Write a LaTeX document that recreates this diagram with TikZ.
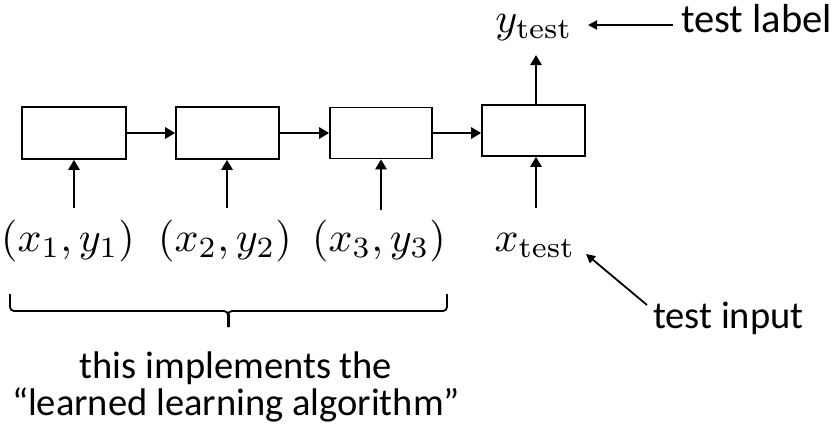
\documentclass[tikz,border=0pt]{standalone}
\usepackage{fontspec}
\newfontfamily\calibri{Carlito}
\usetikzlibrary{arrows.meta}
\newcommand{\mathbigscaled}[1]{\scalebox{4.2}{$#1$}}
\tikzset{
  blk/.style={draw, line width=1.6pt, inner sep=0pt},
  arr/.style={line width=2.6pt, -{Triangle[length=10pt,width=11pt]}},
  thinarr/.style={line width=1.8pt, -{Triangle[length=9pt,width=9pt]}},
  mlab/.style={anchor=base, inner sep=0pt},
  tlab/.style={inner sep=0pt, font=\calibri\fontsize{38.5}{37}\selectfont},
  bracepart/.style={line width=1.8pt, rounded corners=4pt},
}
\begin{document}
\begin{tikzpicture}[x=1pt,y=-1pt]
\useasboundingbox (0,0) rectangle (834,431);
% boxes
\node[blk, minimum width=104pt, minimum height=52pt] (b1) at (74,133) {};
\node[blk, minimum width=103pt, minimum height=52pt] (b2) at (227.5,133) {};
\node[blk, minimum width=102pt, minimum height=51pt] (b3) at (381,133) {};
\node[blk, minimum width=103pt, minimum height=51pt] (b4) at (533.5,130.5) {};
% horizontal connectors
\draw[arr] (b1.east) -- (b2.west |- b1.east);
\draw[arr] (b2.east) -- (b3.west |- b2.east);
\draw[arr] (b3.east) -- (b4.west |- b3.east);
% labels
\node[mlab] (l1) at (68,251) {\mathbigscaled{(x_1,y_1)}};
\node[mlab] (l2) at (225,251) {\mathbigscaled{(x_2,y_2)}};
\node[mlab] (l3) at (379,251) {\mathbigscaled{(x_3,y_3)}};
\node[mlab] (xt) at (535,251) {\mathbigscaled{x_{\mathrm{test}}}};
\node[mlab] (yt) at (534,32) {\mathbigscaled{y_{\mathrm{test}}}};
% input arrows
\coordinate (c1) at (74,208);
\coordinate (c2) at (227,208);
\coordinate (c3) at (381,210);
\coordinate (c4) at (536,208);
\coordinate (c5) at (536,55);
\draw[arr] (c1) -- (c1 |- b1.south);
\draw[arr] (c2) -- (c2 |- b2.south);
\draw[arr] (c3) -- (c3 |- b3.south);
\draw[arr] (c4) -- (c4 |- b4.south);
\draw[arr] (c4 |- b4.north) -- (c5);
% side labels
\node[tlab, anchor=base west, font=\calibri\fontsize{40.5}{40}\selectfont] (tl) at (681,32) {test label};
\node[tlab, anchor=base west] (ti) at (653,328) {test input};
\coordinate (tlt) at (673,25);
\coordinate (tlh) at (588,25);
\draw[thinarr] (tlt) -- (tlh);
\coordinate (tit) at (647,305);
\coordinate (tih) at (586,254);
\draw[thinarr] (tit) -- (tih);
% brace
\coordinate (brl) at (10,294);
\coordinate (brr) at (447,294);
\coordinate (brm) at (228,311);
\coordinate (brt) at (228,327);
\draw[bracepart] (brl) |- (brm) -- (brt);
\draw[bracepart] (brr) |- (brm) -- (brt);
\draw[line width=3pt] (228,314) -- (brt);
% bottom text
\node[tlab, anchor=base, align=center] (bt) at (236,415) {this implements the\\“learned learning algorithm”};
\end{tikzpicture}
\end{document}
